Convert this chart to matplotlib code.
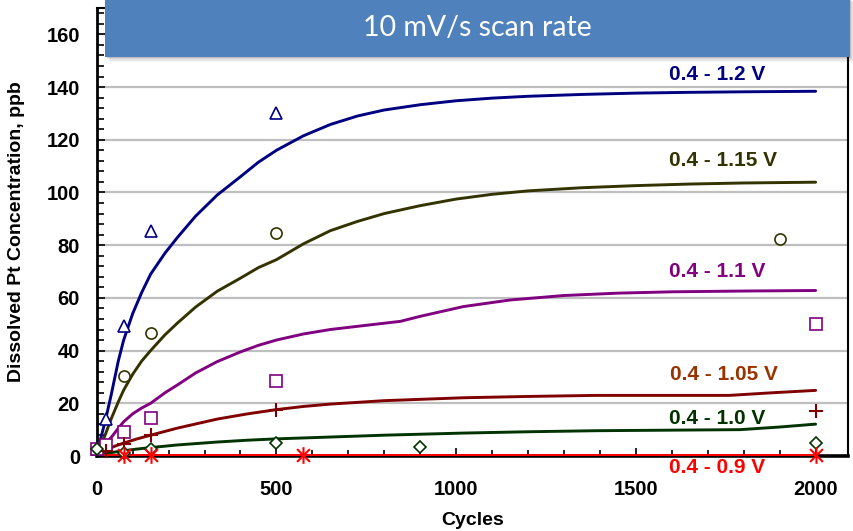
import matplotlib
matplotlib.use("Agg")
import matplotlib.pyplot as plt
from matplotlib.patches import Rectangle
from matplotlib.path import Path
from matplotlib.ticker import MultipleLocator

plt.rcParams["font.family"] = ["Liberation Sans", "DejaVu Sans"]

# fitted curves, read point by point
x_12 = [0, 10, 25, 40, 60, 75, 100, 125, 150, 190, 225, 275, 335, 400, 450, 500,
        575, 650, 725, 800, 900, 1000, 1100, 1200, 1350, 1500, 1650, 1800, 2000]
y_12 = [0, 6, 14, 23, 36, 44, 54, 62, 69, 77, 83, 91, 99, 106, 111.5, 116,
        121.5, 125.8, 129, 131.3, 133.3, 134.8, 135.8, 136.5, 137.2, 137.7, 138, 138.2, 138.4]
x_115 = [0, 10, 25, 40, 60, 75, 100, 125, 150, 190, 225, 275, 335, 400, 450, 500, 535,
         575, 650, 725, 800, 900, 1000, 1100, 1200, 1350, 1500, 1650, 1800, 2000]
y_115 = [0, 3.5, 8.5, 14, 20.5, 25, 31, 36, 40, 46, 50.5, 56.5, 62.5, 67.5, 71.5, 74.5, 77.3,
         80.5, 85.5, 89, 92, 95, 97.5, 99.3, 100.6, 101.8, 102.6, 103.2, 103.6, 103.9]
x_11 = [0, 10, 25, 40, 60, 75, 100, 125, 150, 190, 225, 275, 335, 400, 450, 500, 575,
        650, 750, 845, 900, 1020, 1150, 1300, 1450, 1600, 1800, 2000]
y_11 = [0, 2, 4.5, 7, 10.5, 13, 16, 18.2, 20, 24, 27, 31.5, 35.8, 39.5, 42, 44, 46.3,
        48, 49.6, 51.1, 53, 56.7, 59.2, 60.9, 61.8, 62.3, 62.6, 62.8]
x_105 = [0, 25, 50, 75, 110, 150, 225, 335, 420, 500, 575, 650, 800, 1020, 1200,
         1390, 1760, 1880, 2000]
y_105 = [0, 2.2, 3.7, 4.9, 6.4, 7.9, 10.6, 14, 16, 17.6, 18.8, 19.7, 21, 22.1, 22.6,
         23, 23, 24, 24.9]
x_10 = [0, 25, 50, 75, 110, 150, 225, 335, 420, 500, 650, 800, 1020, 1200, 1390,
        1790, 1900, 2000]
y_10 = [0, 0.9, 1.5, 2, 2.6, 3.2, 4.2, 5.3, 6, 6.5, 7.2, 7.9, 8.7, 9.2, 9.6,
        10.0, 11, 12.1]
x_09 = [0, 2000]
y_09 = [0.3, 0.3]

# measured points
mx_12 = [0, 25, 75, 150, 500]
my_12 = [2.5, 14.2, 49.5, 85.5, 130]
mx_115 = [0, 75, 150, 500, 1900]
my_115 = [2.5, 30.5, 46.6, 84.6, 82.3]
mx_11 = [0, 25, 75, 150, 500, 2000]
my_11 = [2.8, 4.1, 9.1, 14.5, 28.3, 50.1]
mx_105 = [25, 75, 150, 500, 2000]
my_105 = [1.8, 4.7, 7.8, 17.3, 16.9]
mx_10 = [0, 75, 150, 500, 900, 2000]
my_10 = [2.5, 1.2, 2.6, 5.1, 3.4, 4.9]
mx_09 = [75, 150, 575, 2000]
my_09 = [0.2, 0.2, 0.2, 0.2]

labels = ["0.4 - 1.2 V", "0.4 - 1.15 V", "0.4 - 1.1 V",
          "0.4 - 1.05 V", "0.4 - 1.0 V", "0.4 - 0.9 V"]
label_x = [1727, 1741, 1727, 1745, 1727, 1727]
label_y = [144.8, 112, 70, 31, 14.2, -4.2]

line_colors = ["#000080", "#333300", "#800080", "#800000", "#003300", "#ff0000"]
text_colors = ["#000080", "#333300", "#800080", "#993300", "#003300", "#ff0000"]

# excel-style star: an X with a vertical bar
star = Path([(-1, -1), (1, 1), (-1, 1), (1, -1), (0, -1.3), (0, 1.3)],
            [Path.MOVETO, Path.LINETO, Path.MOVETO, Path.LINETO, Path.MOVETO, Path.LINETO])

fig = plt.figure(figsize=(8.54, 5.31), dpi=100)
ax = fig.add_axes([96.7 / 854, 1 - 456 / 531, (848 - 96.7) / 854, (456 - 8) / 531])

curves = [(x_12, y_12), (x_115, y_115), (x_11, y_11),
          (x_105, y_105), (x_10, y_10), (x_09, y_09)]
for (cx, cy), c in zip(curves, line_colors):
    ax.plot(cx, cy, color=c, lw=2.1, zorder=3, solid_capstyle="round",
            solid_joinstyle="round")

pts = [(mx_12, my_12, "^", 9), (mx_115, my_115, "o", 8), (mx_11, my_11, "s", 9),
       (mx_105, my_105, "+", 10), (mx_10, my_10, "D", 6), (mx_09, my_09, star, 12)]
for (px, py, mk, ms), c in zip(pts, line_colors):
    if mk == "+" or mk is star:
        ax.plot(px, py, ls="none", marker=mk, ms=ms, color=c, mew=1.5,
                zorder=4, clip_on=False)
    else:
        ax.plot(px, py, ls="none", marker=mk, ms=ms, mfc="white", mec=c,
                mew=1.2, zorder=4, clip_on=False)

for t, tx, ty, c in zip(labels, label_x, label_y, text_colors):
    ax.text(tx, ty, t, color=c, fontsize=15, fontweight="bold",
            ha="center", va="center", clip_on=False, zorder=5)

ax.set_xlim(0, 2090)
ax.set_ylim(0, 170)
ax.set_xticks([0, 500, 1000, 1500, 2000])
ax.set_yticks(range(0, 161, 20))
ax.xaxis.set_minor_locator(MultipleLocator(100))
ax.yaxis.set_minor_locator(MultipleLocator(4))
ax.grid(True, axis="y", color="#bfbfbf", lw=1.6, zorder=0)
ax.set_axisbelow(True)

ax.tick_params(axis="both", which="both", direction="in", labelsize=14.5, width=1.2)
ax.tick_params(axis="y", which="major", length=6, pad=12)
ax.tick_params(axis="y", which="minor", length=5)
ax.tick_params(axis="x", which="major", length=6, pad=17)
ax.tick_params(axis="x", which="minor", length=4)
for lab in ax.get_xticklabels() + ax.get_yticklabels():
    lab.set_fontweight("bold")

ax.spines["left"].set_linewidth(2.0)
ax.spines["bottom"].set_linewidth(2.6)
ax.spines["right"].set_linewidth(1.5)
ax.spines["top"].set_linewidth(1.5)

ax.set_ylabel("Dissolved Pt Concentration, ppb", fontsize=14, fontweight="bold")
ax.set_xlabel("Cycles", fontsize=14, fontweight="bold")
ax.yaxis.set_label_coords(-0.0954, 0.5)
ax.xaxis.set_label_coords(0.5, -0.125)

# header box with a soft drop shadow
bx, by, bw, bh = 105 / 854, 1 - 57 / 531, (850 - 105) / 854, 60 / 531
for i, a in enumerate([0.10, 0.08, 0.06, 0.04]):
    off = (i + 1) * 1.2
    fig.patches.append(Rectangle((bx + off / 854, by - off / 531), bw, bh,
                                 transform=fig.transFigure, facecolor="black",
                                 alpha=a, edgecolor="none", zorder=8))
fig.patches.append(Rectangle((bx, by), bw, bh, transform=fig.transFigure,
                             facecolor="#4f81bd", edgecolor="none", zorder=9))
fig.text(bx + bw / 2, 1 - 28 / 531, "10 mV/s scan rate", color="white",
         fontsize=20.5, family="Lato", ha="center", va="center", zorder=10)

fig.savefig("out.png", dpi=100)
